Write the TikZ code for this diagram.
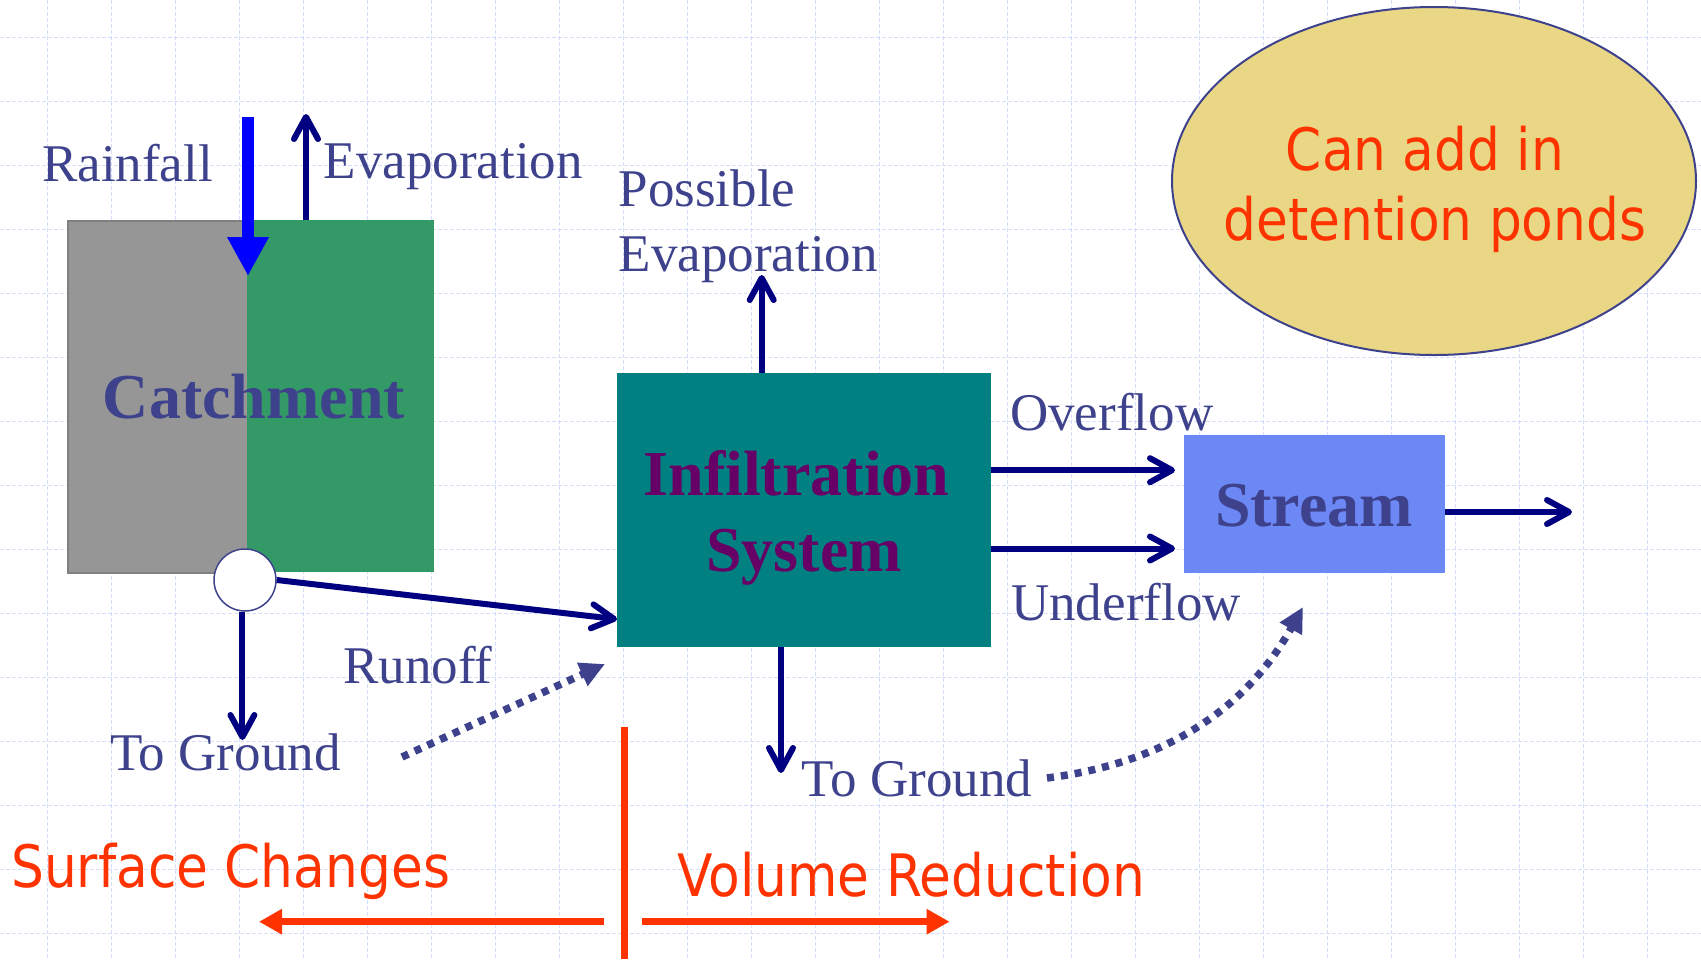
\documentclass[tikz,border=0pt]{standalone}
\usepackage{fontspec}
\setmainfont{Liberation Serif}
\newfontfamily\tahoma{DejaVu Sans}[FakeStretch=0.885]
\usetikzlibrary{arrows.meta,shapes.geometric}

\definecolor{navy}{RGB}{0,0,128}
\definecolor{labelblue}{RGB}{62,66,140}
\definecolor{rainblue}{RGB}{0,0,255}
\definecolor{greyfill}{RGB}{150,150,150}
\definecolor{greyedge}{RGB}{128,128,128}
\definecolor{catchgreen}{RGB}{51,153,102}
\definecolor{infteal}{RGB}{0,128,128}
\definecolor{streamblue}{RGB}{108,136,245}
\definecolor{infpurple}{RGB}{102,0,102}
\definecolor{redorange}{RGB}{255,51,0}
\definecolor{pondfill}{RGB}{233,215,133}
\definecolor{gridblue}{RGB}{214,222,250}

\tikzset{
  gridline/.style={draw=gridblue, line width=1.3pt, dash pattern=on 4pt off 2pt},
  lbl/.style={text=labelblue, font=\fontsize{53}{62}\selectfont, inner sep=0pt, anchor=base west},
  boxtxt/.style={font=\fontsize{64}{77}\selectfont\bfseries, inner sep=0pt, anchor=base},
  redtxt/.style={text=redorange, font=\tahoma\fontsize{58.5}{70}\selectfont, inner sep=0pt},
  block/.style={rectangle, inner sep=0pt, anchor=north west},
  flow/.style={draw=navy, line width=6pt, -{Straight Barb[length=22pt,width=24pt,round]}},
  seep/.style={draw=labelblue, line width=7.5pt, dash pattern=on 7pt off 7pt,
               -{Triangle[length=25pt,width=24pt]}},
  split/.style={draw=redorange, line width=7pt, -{Triangle[length=23pt,width=24pt]}},
}

\begin{document}
\begin{tikzpicture}[x=1pt,y=-1pt]
\useasboundingbox (0,0) rectangle (1701,959);
\fill[white] (0,0) rectangle (1701,959);

% background grid
\foreach \i in {0,...,25} \draw[gridline] ({47.7+64*\i},0) -- ({47.7+64*\i},959);
\foreach \j in {0,...,14} \draw[gridline] (0,{37.7+64*\j}) -- (1701,{37.7+64*\j});

% catchment: paved half and green half
\node[block, fill=greyfill, draw=greyedge, line width=1.5pt,
      minimum width=180pt, minimum height=352pt] (catchL) at (67,220) {};
\node[block, fill=catchgreen, minimum width=187pt, minimum height=352pt] (catchR) at (247,220) {};
\node[boxtxt, text=labelblue] (catchtxt) at (254,418.3) {Catchment};

% outlet of the catchment
\node[circle, draw=labelblue, fill=white, line width=1.5pt, minimum size=62pt, inner sep=0pt]
  (outlet) at (245,580) {};

% infiltration system
\node[block, fill=infteal, minimum width=374pt, minimum height=274pt] (infil) at (617,373) {};
\node[boxtxt, text=infpurple] (inftxt1) at (796.5,495) {Infiltration};
\node[boxtxt, text=infpurple] (inftxt2) at (804,571.7) {System};

% stream
\node[block, fill=streamblue, minimum width=260.5pt, minimum height=137.7pt] (stream) at (1184,435) {};
\node[boxtxt, text=labelblue] (streamtxt) at (1314,526.7) {Stream};

% detention pond note
\node[ellipse, draw=labelblue, fill=pondfill, line width=2pt, inner sep=0pt,
      minimum width=524pt, minimum height=348pt] (pond) at (1434,181) {};
\node[redtxt, anchor=base] (pond1) at (1425,170) {Can add in};
\node[redtxt, anchor=base] (pond2) at (1435,240) {detention ponds};

% labels
\node[lbl] (rainlbl) at (42,181.7) {Rainfall};
\node[lbl] (evaplbl) at (323.5,178.3) {Evaporation};
\node[lbl] (poss1) at (618.5,206.7) {Possible};
\node[lbl] (poss2) at (618.5,271.7) {Evaporation};
\node[lbl] (overlbl) at (1010,430) {Overflow};
\node[lbl] (underlbl) at (1011,620) {Underflow};
\node[lbl] (runofflbl) at (343,683.3) {Runoff};
\node[lbl] (ground1) at (110,770.7) {To Ground};
\node[lbl] (ground2) at (801.5,796.7) {To Ground};
\node[redtxt, anchor=base west] (surflbl) at (11,887.7) {Surface Changes};
\node[redtxt, anchor=base west] (vollbl) at (677,896) {Volume Reduction};

% free ends of the connectors
\coordinate (rainA) at (248,117);
\coordinate (rainB) at (248,276);
\coordinate (cevap) at (306,114);
\coordinate (pevap) at (761.7,275);
\coordinate (igr) at (781,773);
\coordinate (ogr) at (242.4,740);
\coordinate (ovA) at ([yshift=40pt]infil.east);
\coordinate (unA) at ([yshift=-38.3pt]infil.east);
\coordinate (sout) at (1572,512);
\coordinate (dotA) at (402,757);
\coordinate (dotB) at (605,664);
\coordinate (curA) at (1047,778);
\coordinate (curB) at (1303,607);
\coordinate (divtop) at (624,727);
\coordinate (divbot) at (624,959);
\coordinate (leftA) at (604,921.7);
\coordinate (leftB) at (259,921.7);
\coordinate (rightA) at (642.4,921.7);
\coordinate (rightB) at (949.6,921.7);

% rainfall and evaporation at the catchment
\draw[draw=rainblue, line width=12.6pt, -{Triangle[length=39pt,width=39pt]}] (rainA) -- (rainB);
\draw[flow] (cevap |- catchR.north) -- (cevap);

% runoff and infiltration flows
\draw[flow] (outlet.east) -- ([yshift=-109pt]infil.west);
\draw[flow] (outlet.south -| ogr) -- (ogr);
\draw[flow] (pevap |- infil.north) -- (pevap);
\draw[flow] (igr |- infil.south) -- (igr);
\draw[flow, shorten >=9pt] (ovA) -- (ovA -| stream.west);
\draw[flow, shorten >=9pt] (unA) -- (unA -| stream.west);
\draw[flow] (sout -| stream.east) -- (sout);

% groundwater paths
\draw[seep] (dotA) -- (dotB);
\draw[seep] (curA) .. controls (1150,765) and (1240,720) .. (curB);

% surface changes vs volume reduction
\draw[draw=redorange, line width=7pt] (divtop) -- (divbot);
\draw[split] (leftA) -- (leftB);
\draw[split] (rightA) -- (rightB);
\end{tikzpicture}
\end{document}
